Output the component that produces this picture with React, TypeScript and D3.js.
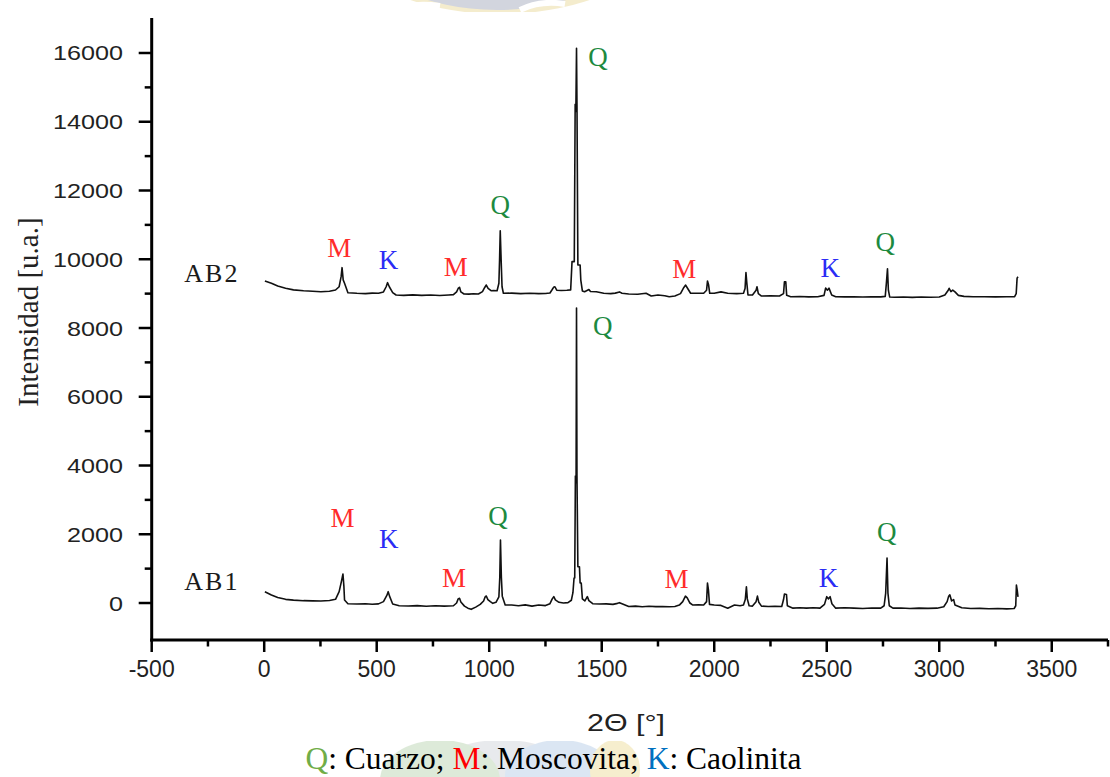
import React from 'react'
import * as d3 from 'd3'

// XRD patterns: [2θ, intensity]
const ab1: [number, number][] = [
  [3, 330], [32, 233], [60, 160], [95, 107], [130, 85], [175, 68], [215, 62], [252, 58], [290, 75], [317, 107],
  [333, 330], [343, 620], [350, 844], [354, 500], [357, 87], [372, -20], [412, -29], [450, -20], [480, -35], [508, -25],
  [530, 40], [545, 220], [551, 330], [557, 200], [571, -29], [600, -80], [640, -87], [680, -75], [720, -95], [760, -80],
  [800, -90], [841, -80], [855, 0], [862, 120], [868, 136], [874, 30], [890, -90], [905, -150], [920, -184], [940, -120],
  [960, -40], [975, 60], [982, 180], [987, 204], [994, 100], [1005, 40], [1016, -10], [1030, 20], [1043, 180], [1047, 748],
  [1050, 1833], [1054, 748], [1058, 200], [1071, -58], [1100, -60], [1130, -80], [1160, -55], [1190, -90], [1220, -60], [1250, -75],
  [1270, -20], [1280, 120], [1287, 185], [1294, 90], [1310, 20], [1330, 0], [1350, 10], [1365, 80], [1372, 300], [1377, 727],
  [1380, 727], [1383, 3695], [1386, 3500], [1388, 8582], [1390, 3695], [1394, 1056], [1401, 1056], [1404, 580], [1409, 580], [1414, 120],
  [1425, 60], [1436, 185],
  [1443, 70], [1460, -20], [1490, -30], [1520, -25], [1550, -40], [1570, -10], [1579, 10], [1590, -20], [1620, -100], [1650, -90],
  [1680, -110], [1710, -95], [1740, -105], [1770, -100], [1800, -110], [1825, -100], [1845, -60], [1860, 40], [1872, 200], [1880, 150],
  [1892, 0], [1905, -60], [1930, -50], [1953, -60], [1966, 40], [1970, 580], [1974, 400], [1979, -40], [2000, -60], [2030, -70],
  [2060, -150], [2090, -60], [2115, -80], [2130, -60], [2138, 100], [2143, 470], [2147, 120], [2155, -80], [2170, -90], [2186, 40],
  [2192, 200], [2198, 20], [2210, -90], [2240, -100], [2270, -95], [2300, -100], [2308, 100], [2312, 260], [2321, 250], [2325, -80],
  [2350, -150], [2380, -140], [2410, -150], [2440, -140], [2470, -150], [2490, -40], [2500, 185], [2508, 120], [2515, 185], [2523, -20],
  [2540, -150], [2580, -140], [2620, -150], [2660, -160], [2700, -145], [2740, -150], [2755, -80], [2762, 290], [2768, 1310], [2772, 290],
  [2778, -80], [2794, -150], [2830, -145], [2870, -160], [2910, -150], [2950, -155], [2990, -150], [3020, -110], [3035, 40], [3042, 200],
  [3047, 240], [3055, 60], [3064, 100], [3070, -60], [3100, -140], [3140, -160], [3180, -155], [3220, -165], [3260, -160], [3300, -170],
  [3333, -160], [3340, -80], [3343, 520], [3347, 350], [3350, 180],
]

const ab2: [number, number][] = [
  [3, 9367], [32, 9300], [60, 9220], [95, 9155], [130, 9110], [175, 9085], [215, 9070], [252, 9056], [290, 9070], [317, 9105],
  [333, 9200], [342, 9500], [346, 9755], [351, 9400], [357, 9300], [372, 9027], [412, 9010], [450, 9000], [480, 9015], [508, 9010],
  [530, 9050], [542, 9200], [548, 9318], [556, 9200], [571, 9030], [586, 8960], [620, 8950], [660, 8965], [700, 8950], [740, 8960],
  [780, 8945], [820, 8960], [841, 8970], [855, 9050], [862, 9150], [868, 9184], [874, 9050], [888, 8990], [910, 8985], [930, 8995],
  [952, 8990], [970, 9060], [980, 9180], [987, 9250], [995, 9150], [1008, 9085], [1020, 9090], [1035, 9085], [1043, 9300], [1046, 9978],
  [1049, 10830], [1053, 9978], [1057, 9200], [1063, 9010], [1100, 9015], [1140, 9000], [1180, 9010], [1220, 9000], [1250, 9005], [1270, 9020],
  [1280, 9120], [1286, 9184], [1292, 9200], [1300, 9100], [1320, 9090], [1345, 9100], [1362, 9110], [1368, 9930], [1378, 9930], [1382, 14507],
  [1385, 14300], [1388, 16137], [1390, 14507], [1394, 9833], [1404, 9833], [1407, 9396], [1414, 9080], [1424, 9056], [1443, 9120], [1450, 9060],
  [1476, 9056],
  [1509, 9010], [1540, 9000], [1560, 9015], [1579, 9050], [1590, 9010], [1620, 8990], [1660, 8980], [1697, 9010], [1720, 8930], [1750, 8960],
  [1780, 8940], [1800, 8910], [1825, 8930], [1850, 9000], [1865, 9180], [1873, 9250], [1882, 9150], [1895, 9010], [1920, 9010], [1953, 9010],
  [1966, 9100], [1970, 9367], [1975, 9250], [1980, 9010], [2000, 9010], [2030, 9050], [2060, 9010], [2100, 9000], [2130, 9010], [2137, 9150],
  [2141, 9610], [2145, 9300], [2150, 8960], [2170, 8960], [2186, 9100], [2190, 9200], [2196, 9000], [2210, 8930], [2250, 8935], [2290, 8930],
  [2308, 9000], [2312, 9347], [2318, 9347], [2322, 8950], [2340, 8910], [2380, 8915], [2420, 8905], [2460, 8910], [2488, 8950], [2495, 9160],
  [2503, 9100], [2510, 9160], [2522, 8960], [2540, 8910], [2580, 8905], [2620, 8910], [2660, 8900], [2700, 8910], [2740, 8905], [2760, 8920],
  [2765, 9300], [2770, 9725], [2774, 9100], [2780, 8900], [2800, 8895], [2840, 8900], [2880, 8890], [2920, 8900], [2960, 8895], [3000, 8900],
  [3025, 8960], [3040, 9100], [3044, 9155], [3052, 9060], [3060, 9100], [3070, 9050], [3085, 8950], [3110, 8920], [3150, 8910], [3200, 8910],
  [3250, 8905], [3300, 8910], [3335, 8910], [3342, 9000], [3346, 9450], [3350, 9492],
]

// phase letter, 2θ, intensity of the letter's baseline
const ab1Peaks: [string, number, number][] = [
  ['M', 348, 2211], ['K', 554, 1600], ['M', 843, 480], ['Q', 1039, 2280],
  ['Q', 1505, 7800], ['M', 1832, 436], ['K', 2508, 474], ['Q', 2767, 1790],
]
const ab2Peaks: [string, number, number][] = [
  ['M', 333, 10074], ['K', 552, 9708], ['M', 851, 9513], ['Q', 1049, 11330],
  ['Q', 1483, 15610], ['M', 1867, 9455], ['K', 2516, 9484], ['Q', 2760, 10230],
]
const seriesNames: [string, number, number][] = [['AB1', -355, 380], ['AB2', -355, 9325]]

const yMajor = [0, 2000, 4000, 6000, 8000, 10000, 12000, 14000, 16000]
const yMinor = [1000, 3000, 5000, 7000, 9000, 11000, 13000, 15000]
const xMajor = [-500, 0, 500, 1000, 1500, 2000, 2500, 3000, 3500]
const xMinor = [-250, 250, 750, 1250, 1750, 2250, 2750, 3250, 3750]

const legend: [string, string][] = [['Q', 'Cuarzo'], ['M', 'Moscovita'], ['K', 'Caolinita']]

const peakColor: Record<string, string> = { Q: '#1d8a3f', M: '#ff2b2b', K: '#2b2bf5' }
const legendColor: Record<string, string> = { Q: '#70ad47', M: '#ff0000', K: '#0070c0' }

const W = 1110
const H = 777
const sans = "'Liberation Sans', Arial, sans-serif"
const serif = "'Liberation Serif', 'Times New Roman', serif"

export default function App() {
  const x = d3.scaleLinear().domain([-500, 3750]).range([151.7, 1108])
  const y = d3.scaleLinear().domain([-1076, 17018]).range([640, 18])
  const line = d3.line<[number, number]>().x(d => x(d[0])).y(d => y(d[1]))
  const x0 = x(-500)
  const yb = y(-1076)

  return (
    <svg width={W} height={H} style={{ position: 'absolute', left: 0, top: 0, background: '#fff' }}>
      <defs>
        <clipPath id="wmTop"><rect x={0} y={0} width={W} height={12} /></clipPath>
        <clipPath id="wmBot"><rect x={360} y={741} width={285} height={40} /></clipPath>
      </defs>

      {/* faint watermark behind the figure */}
      <g clipPath="url(#wmTop)" opacity={0.75}>
        <ellipse cx={500} cy={-60} rx={153} ry={74} fill="#f1e6bd" />
        <ellipse cx={497} cy={-62} rx={136} ry={72} fill="#c3c7d4" />
        <path d="M385,12 Q410,2 440,6 M520,10 Q540,0 565,4 M590,12 Q600,3 615,9" stroke="#fff" strokeWidth={6} fill="none" />
      </g>
      <g clipPath="url(#wmBot)" opacity={0.5}>
        <ellipse cx={502} cy={890} rx={150} ry={150} fill="#d3d6dc" />
        <ellipse cx={440} cy={780} rx={60} ry={40} fill="#bcd6b4" />
        <ellipse cx={560} cy={775} rx={55} ry={35} fill="#b9cfe8" />
        <ellipse cx={615} cy={770} rx={25} ry={30} fill="#efdf9e" />
      </g>

      {/* axes */}
      <line x1={x0} x2={x0} y1={18} y2={yb + 1.5} stroke="#000" strokeWidth={3} />
      <line x1={x0 - 1.5} x2={x(3750)} y1={yb} y2={yb} stroke="#000" strokeWidth={3} />
      {yMajor.map(v => (
        <g key={'ym' + v}>
          <line x1={x0 - 13} x2={x0} y1={y(v)} y2={y(v)} stroke="#000" strokeWidth={2.5} />
          <text x={123} y={y(v) + 7.5} textAnchor="end" fontFamily={sans} fontSize={21}
            textLength={String(v).length * 14} lengthAdjust="spacingAndGlyphs" fill="#222">{v}</text>
        </g>
      ))}
      {yMinor.map(v => (
        <line key={'yn' + v} x1={x0 - 7} x2={x0} y1={y(v)} y2={y(v)} stroke="#000" strokeWidth={2.5} />
      ))}
      {xMajor.map(v => (
        <g key={'xm' + v}>
          <line x1={x(v)} x2={x(v)} y1={yb} y2={yb + 12} stroke="#000" strokeWidth={2.5} />
          <text x={x(v)} y={677} textAnchor="middle" fontFamily={sans} fontSize={23} fill="#222">{v}</text>
        </g>
      ))}
      {xMinor.map(v => (
        <line key={'xn' + v} x1={x(v)} x2={x(v)} y1={yb} y2={yb + 6.5} stroke="#000" strokeWidth={2.5} />
      ))}

      {/* axis titles */}
      <text x={626} y={731} textAnchor="middle" fontFamily={sans} fontSize={24} fill="#222"
        textLength={78} lengthAdjust="spacingAndGlyphs">2Θ [°]</text>
      <text transform="translate(38,312) rotate(-90)" textAnchor="middle" fontFamily={serif} fontSize={29} fill="#222">
        Intensidad [u.a.]
      </text>

      {/* patterns */}
      {[ab1, ab2].map((s, i) => (
        <path key={i} d={line(s) ?? ''} fill="none" stroke="#111" strokeWidth={1.6} strokeLinejoin="round" />
      ))}

      {seriesNames.map(([n, a, v]) => (
        <text key={n} x={x(a)} y={y(v)} fontFamily={serif} fontSize={26} letterSpacing={2} fill="#1a1a1a">{n}</text>
      ))}
      {[...ab1Peaks, ...ab2Peaks].map(([p, a, v], i) => (
        <text key={'p' + i} x={x(a)} y={y(v)} textAnchor="middle" fontFamily={serif} fontSize={27} fill={peakColor[p]}>{p}</text>
      ))}

      {/* phase key */}
      <text x={553.5} y={769} textAnchor="middle" fontFamily={serif} fontSize={31.5} fill="#000">
        {legend.map(([p, name], i) => (
          <React.Fragment key={p}>
            <tspan fill={legendColor[p]}>{p}</tspan>
            <tspan>{': ' + name + (i < legend.length - 1 ? '; ' : '')}</tspan>
          </React.Fragment>
        ))}
      </text>
    </svg>
  )
}
